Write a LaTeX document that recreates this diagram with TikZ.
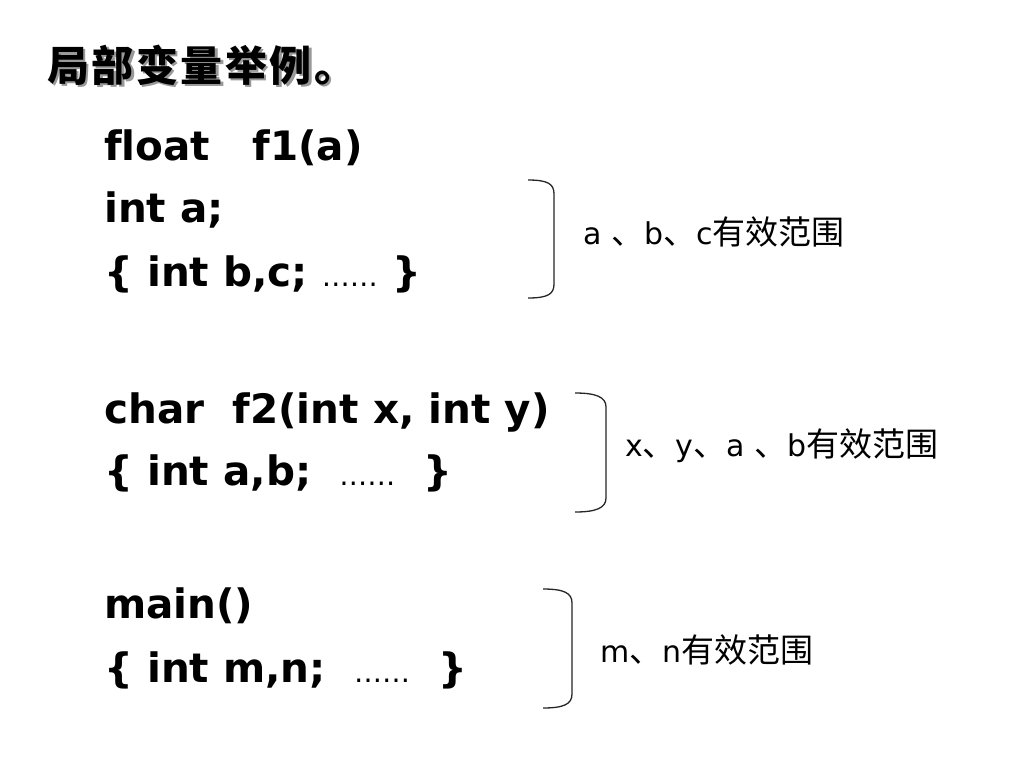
\documentclass[tikz,border=0pt]{standalone}
\usepackage{fontspec}
\setmainfont{DejaVu Sans}[Ligatures=NoCommon]
\newfontfamily\cjk{Noto Sans CJK SC}
\tikzset{
  code/.style={anchor=base west, inner sep=0pt, font=\fontsize{40.5}{40.5}\selectfont\bfseries},
  lab/.style={anchor=base west, inner sep=0pt, font=\fontsize{30}{30}\selectfont},
  title/.style={anchor=west, inner sep=0pt, font=\cjk\bfseries\fontsize{42}{42}\selectfont},
  scopebr/.style={draw=black!85, line width=1.3pt}
}
\newcommand{\dd}{{\fontsize{28}{28}\selectfont\mdseries ……}}
\newcommand{\cs}[1]{{\cjk\fontsize{33}{33}\selectfont #1}}
\newcommand{\tl}{局\hspace{2.5pt}部\hspace{2.5pt}变\hspace{2.5pt}量\hspace{2.5pt}举\hspace{2.5pt}例\hspace{2.5pt}。}
\begin{document}
\begin{tikzpicture}[x=1pt,y=-1pt]
\useasboundingbox[fill=white] (0,0) rectangle (1024,768);
% title with shadow
\node[title, text=black!40] (tsh) at (49.5,67.5) {\tl};
\node[title] (t) at (47,65) {\tl};
% code lines
\node[code] (l1) at (104,160) {float\ \ \ f1(a)};
\node[code] (l2) at (104,222) {int a;};
\node[code] (l3) at (104,286) {\{ int b,c; \dd\ \}};
\node[code] (l4) at (104,423) {char\ \ f2(int x, int y)};
\node[code] (l5) at (104,485) {\{ int a,b;\ \ \dd\ \ \}};
\node[code] (l6) at (104,618) {main()};
\node[code] (l7) at (104,682) {\{ int m,n;\ \ \dd\ \ \}};
% brackets
\draw[scopebr] (528,180) .. controls (548,180) and (554,184) .. (554,194) -- (554,284) .. controls (554,294) and (548,298) .. (528,298);
\draw[scopebr] (575,393) .. controls (596,393) and (606,397) .. (606,407) -- (606,498) .. controls (606,508) and (596,512) .. (575,512);
\draw[scopebr] (543,589) .. controls (564,589) and (572,593) .. (572,603) -- (572,694) .. controls (572,704) and (564,708) .. (543,708);
% labels
\node[lab] (s1) at (583,244) {a \cs{、}b\cs{、}c\cs{有效范围}};
\node[lab] (s2) at (625,456) {x\cs{、}y\cs{、}a \cs{、}b\cs{有效范围}};
\node[lab] (s3) at (600,662) {m\cs{、}n\cs{有效范围}};
\end{tikzpicture}
\end{document}
